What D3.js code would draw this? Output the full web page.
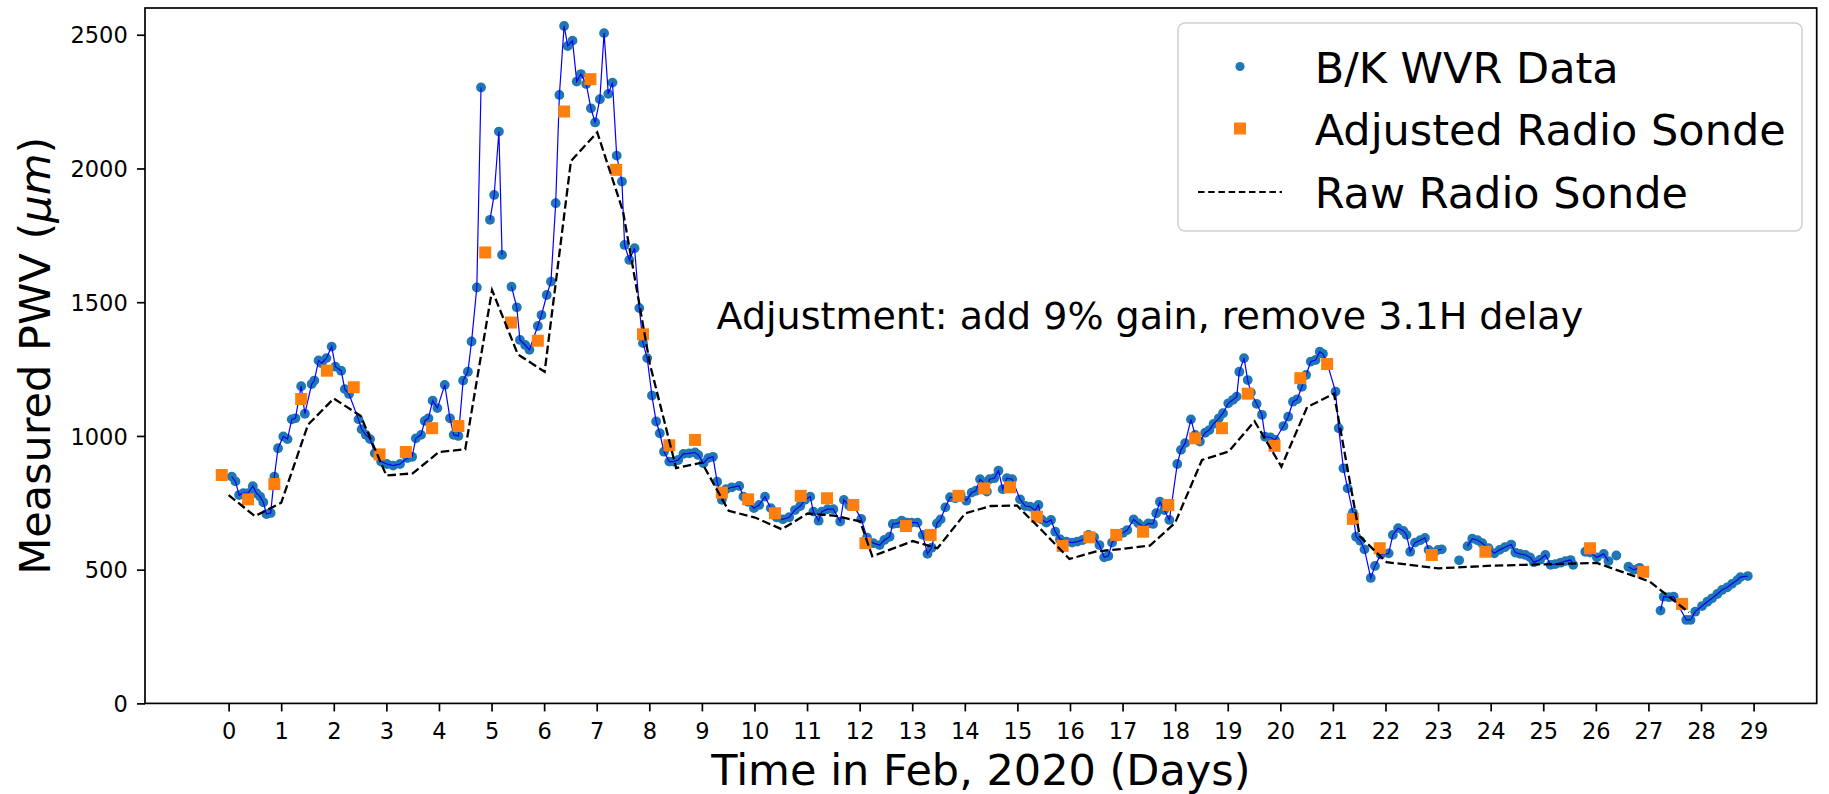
<!DOCTYPE html>
<html>
<head>
<meta charset="utf-8">
<script src="https://cdn.jsdelivr.net/npm/d3@7"></script>
<style>
  body { margin: 0; background: #fff; }
  svg { display: block; }
  text { font-family: "DejaVu Sans", sans-serif; fill: #000; }
</style>
</head>
<body>
<script>
// B/K water vapour radiometer PWV samples (day of Feb 2020, microns)
const wvrDay = [
  0.06,0.13,0.20,0.28,0.37,0.46,0.53,0.60,0.66,0.72,0.80,0.87,0.94,1.04,1.12,1.20,1.27,1.38,1.45,1.58,
  1.63,1.71,1.77,1.86,1.96,2.03,2.14,2.21,2.29,2.47,2.53,2.61,2.69,2.78,2.90,3.01,3.13,3.26,3.40,3.49,
  3.56,3.66,3.73,3.80,3.88,3.97,4.11,4.21,4.28,4.37,4.46,4.55,4.62,4.72,4.80,
  4.97,5.05,5.14,5.20,
  5.38,5.48,5.54,5.64,5.72,5.88,5.95,6.05,6.13,6.22,6.29,6.38,6.45,6.54,6.62,6.70,6.80,6.89,6.97,7.06,
  7.14,7.22,7.30,7.38,7.48,7.53,7.62,7.72,7.81,7.88,7.96,8.05,8.13,8.20,8.28,8.38,8.46,8.55,8.65,8.76,
  8.87,8.93,9.03,9.12,9.21,9.29,9.38,9.46,9.57,9.71,9.79,9.88,9.99,10.09,10.20,10.31,10.42,10.54,10.66,10.77,
  10.87,10.96,11.06,11.12,11.22,11.28,11.39,11.50,11.63,11.70,11.80,11.88,12.03,12.14,12.26,12.38,12.47,12.57,12.63,12.72,
  12.80,12.90,12.99,13.10,13.20,13.29,13.37,13.47,13.54,13.63,13.72,13.82,13.92,14.03,14.13,14.21,14.29,14.37,14.42,14.47,
  14.56,14.64,14.72,14.80,14.90,15.05,15.15,15.24,15.34,15.40,15.46,15.55,15.64,15.72,15.81,15.93,16.04,16.14,16.24,16.35,
  16.46,16.56,16.65,16.73,16.80,16.90,17.01,17.09,17.21,17.30,17.40,17.49,17.58,17.64,17.71,17.79,17.89,18.04,18.11,18.19,
  18.30,18.38,18.47,18.57,18.65,18.73,18.83,18.91,19.01,19.10,19.17,19.22,19.31,19.38,19.44,19.55,19.65,19.71,19.81,19.90,
  20.06,20.15,20.24,20.32,20.41,20.49,20.58,20.67,20.75,20.81,20.90,21.05,21.11,21.20,21.28,21.38,21.44,21.52,21.60,21.72,
  21.80,21.91,22.06,22.14,22.24,22.34,22.40,22.47,22.56,22.66,22.75,22.82,22.92,23.00,23.07,
  23.40,
  23.56,23.65,23.75,23.84,23.96,24.07,24.17,24.27,24.39,24.47,24.56,24.66,24.75,24.82,24.94,25.04,25.14,25.23,25.33,25.42,
  25.52,25.57,
  25.80,25.89,26.02,26.15,26.24,
  26.39,
  26.62,26.72,26.83,26.92,
  27.23,27.29,27.39,27.48,27.72,27.80,27.89,28.02,28.12,28.21,28.31,28.40,28.50,28.59,28.69,28.75,28.89
];
const wvrPwv = [
  848,830,779,786,786,812,786,773,752,708,712,848,954,998,988,1062,1066,1186,1083,1194,
  1207,1282,1272,1291,1334,1259,1244,1175,1157,1062,1025,1004,988,935,904,895,889,895,917,922,
  991,1004,1056,1066,1132,1104,1191,1066,1004,1000,1207,1240,1353,1555,2303,
  1808,1901,2138,1677,
  1558,1481,1359,1340,1322,1411,1452,1527,1577,1870,2275,2533,2458,2478,2325,2353,2316,2225,2172,2259,
  2506,2279,2321,2048,1951,1714,1658,1702,1478,1347,1291,1151,1054,1010,941,904,904,910,933,935,
  938,929,898,917,922,829,761,801,808,813,773,754,730,742,773,730,696,688,696,723,
  738,761,773,717,683,717,726,726,680,761,740,742,690,620,599,592,611,623,671,673,
  683,676,676,676,630,559,582,673,688,733,771,767,779,758,788,795,838,823,792,838,
  842,870,801,842,838,763,738,736,721,742,688,676,686,642,614,605,601,605,611,630,
  621,592,546,551,601,626,638,648,688,673,661,673,671,711,754,723,686,895,948,973,
  1062,1004,979,1012,1022,1045,1066,1085,1122,1135,1147,1240,1291,1209,1162,1120,1079,997,995,985,
  1037,1072,1128,1137,1184,1228,1278,1284,1315,1307,1266,1166,1029,879,804,713,623,608,576,469,
  514,557,561,630,655,645,630,567,601,610,619,574,564,574,576,
  535,
  588,616,610,599,580,561,574,584,594,564,559,555,546,528,537,555,518,521,526,532,
  536,518,
  567,564,546,559,532,
  553,
  511,499,507,493,
  347,399,397,399,312,312,343,364,380,393,409,424,434,447,461,472,476
];
// the connecting line is interrupted after these samples (missing data)
const wvrBreakAfter = [4.80, 5.20, 23.07, 23.40, 25.57, 26.24, 26.39, 26.92];

// radiosonde PWV after +9% gain and -3.1 h shift
const sondeAdjDay = [
  -0.13,0.37,0.87,1.38,1.87,2.38,2.87,3.37,3.87,4.37,4.88,5.37,5.88,6.38,6.88,7.37,7.88,8.38,8.87,9.38,
  9.88,10.39,10.88,11.38,11.88,12.11,12.88,13.35,13.88,14.37,14.86,15.37,15.86,16.37,16.88,17.39,17.87,18.38,18.89,19.38,
  19.89,20.38,20.89,21.38,21.89,22.88,23.90,25.89,26.90,27.64
];
const sondeAdjPwv = [
  854,763,820,1138,1244,1182,931,940,1029,1037,1686,1424,1356,2213,2334,1995,1380,965,985,788,
  763,711,776,767,742,599,663,630,776,804,808,698,589,621,630,642,742,991,1029,1158,
  963,1216,1269,690,580,555,567,580,492,372
];

// raw radiosonde PWV
const sondeRawDay = [
  0.00,0.50,1.00,1.51,2.00,2.51,3.00,3.50,4.00,4.50,5.01,5.50,6.01,6.51,7.01,7.50,8.01,8.51,9.00,9.51,
  10.01,10.52,11.01,11.51,12.01,12.24,13.01,13.48,14.01,14.50,14.99,15.50,15.99,16.50,17.01,17.52,18.00,18.51,19.02,19.51,
  20.02,20.51,21.02,21.51,22.02,23.01,24.03,26.02,27.03,27.77
];
const sondeRawPwv = [
  779,700,750,1042,1140,1075,852,860,940,950,1545,1305,1240,2028,2135,1840,1270,880,900,720,
  695,651,710,702,681,550,607,580,711,738,740,640,540,568,578,590,675,910,942,1055,
  885,1108,1158,625,528,505,515,525,455,340
];

const dayTicks = [0,1,2,3,4,5,6,7,8,9,10,11,12,13,14,15,16,17,18,19,20,21,22,23,24,25,26,27,28,29];
const pwvTicks = [0,500,1000,1500,2000,2500];
const seriesNames = ["B/K WVR Data", "Adjusted Radio Sonde", "Raw Radio Sonde"];
const xTitle = "Time in Feb, 2020 (Days)";
const noteText = "Adjustment: add 9% gain, remove 3.1H delay";
const noteDay = 9.28, notePwv = 1400;

const W = 1829, H = 794;
const plot = { left: 145, right: 1816.7, top: 8, bottom: 703.4 };
const dotColor = "#1f77b4", lineColor = "#0000ff", sondeColor = "#ff7f0e";
const dotR = 4.9;

const svg = d3.select("body").append("svg").attr("width", W).attr("height", H);
svg.append("rect").attr("width", W).attr("height", H).attr("fill", "#fff");

const x = d3.scaleLinear().domain([-1.59, 30.2]).range([plot.left, plot.right]);
const y = d3.scaleLinear().domain([0, 2600]).range([plot.bottom, plot.top]);

// axes
const xAxis = svg.append("g").attr("transform", `translate(0,${plot.bottom})`)
  .call(d3.axisBottom(x).tickValues(dayTicks).tickFormat(d3.format("d")).tickSize(8).tickPadding(11.6));
const yAxis = svg.append("g").attr("transform", `translate(${plot.left},0)`)
  .call(d3.axisLeft(y).tickValues(pwvTicks).tickFormat(d3.format("d")).tickSize(8).tickPadding(9.3));
[xAxis, yAxis].forEach(g => {
  g.select(".domain").remove();
  g.selectAll(".tick line").attr("stroke", "#000").attr("stroke-width", 1.7);
  g.selectAll(".tick text").attr("font-size", 22.5).attr("font-family", "DejaVu Sans").attr("fill", "#000");
});
yAxis.selectAll(".tick text").attr("dy", "0.36em");

// clip for data marks
svg.append("clipPath").attr("id", "plotArea").append("rect")
  .attr("x", plot.left).attr("y", plot.top)
  .attr("width", plot.right - plot.left).attr("height", plot.bottom - plot.top);
const marks = svg.append("g").attr("clip-path", "url(#plotArea)");

// WVR samples
const wvr = wvrDay.map((d, i) => ({ day: d, pwv: wvrPwv[i] }));
marks.append("g").selectAll("circle").data(wvr).join("circle")
  .attr("cx", d => x(d.day)).attr("cy", d => y(d.pwv)).attr("r", dotR)
  .attr("fill", dotColor);

const segments = [];
let current = [];
wvr.forEach(p => {
  current.push(p);
  if (wvrBreakAfter.includes(p.day)) { segments.push(current); current = []; }
});
if (current.length) segments.push(current);
const line = d3.line().x(d => x(d.day)).y(d => y(d.pwv));
marks.append("g").selectAll("path").data(segments.filter(s => s.length > 1)).join("path")
  .attr("d", line).attr("fill", "none").attr("stroke", lineColor).attr("stroke-width", 1.2);

// adjusted radiosonde squares
const sq = 12;
marks.append("g").selectAll("rect").data(sondeAdjDay.map((d, i) => ({ day: d, pwv: sondeAdjPwv[i] })))
  .join("rect")
  .attr("x", d => x(d.day) - sq / 2).attr("y", d => y(d.pwv) - sq / 2)
  .attr("width", sq).attr("height", sq).attr("fill", sondeColor);

// raw radiosonde dashed line
marks.append("path")
  .datum(sondeRawDay.map((d, i) => ({ day: d, pwv: sondeRawPwv[i] })))
  .attr("d", line).attr("fill", "none").attr("stroke", "#000")
  .attr("stroke-width", 2.3).attr("stroke-dasharray", "8.5,3.7");

// frame
svg.append("rect").attr("x", plot.left).attr("y", plot.top)
  .attr("width", plot.right - plot.left).attr("height", plot.bottom - plot.top)
  .attr("fill", "none").attr("stroke", "#000").attr("stroke-width", 1.7);

// annotation
svg.append("text").attr("x", x(noteDay)).attr("y", y(notePwv))
  .attr("font-size", 38).text(noteText);

// axis titles
svg.append("text").attr("x", (plot.left + plot.right) / 2).attr("y", 785)
  .attr("text-anchor", "middle").attr("font-size", 43).text(xTitle);
const yt = svg.append("text")
  .attr("transform", `translate(50,${(plot.top + plot.bottom) / 2}) rotate(-90)`)
  .attr("text-anchor", "middle").attr("font-size", 43);
yt.append("tspan").text("Measured PWV (");
yt.append("tspan").attr("font-style", "italic").text("\u03bcm");
yt.append("tspan").text(")");

// legend
const lg = svg.append("g");
lg.append("rect").attr("x", 1178).attr("y", 23).attr("width", 624).attr("height", 208)
  .attr("rx", 7).attr("fill", "#fff").attr("fill-opacity", 0.8)
  .attr("stroke", "#d0d0d0").attr("stroke-width", 1.5);
const rowY = [66.5, 128.5, 192];
const handleX = 1240;
lg.append("circle").attr("cx", handleX).attr("cy", rowY[0]).attr("r", 4.6).attr("fill", dotColor);
lg.append("rect").attr("x", handleX - 6).attr("y", rowY[1] - 6).attr("width", 12).attr("height", 12).attr("fill", sondeColor);
lg.append("line").attr("x1", handleX - 42).attr("x2", handleX + 42).attr("y1", rowY[2]).attr("y2", rowY[2])
  .attr("stroke", "#000").attr("stroke-width", 1.8).attr("stroke-dasharray", "6.5,3.7");
seriesNames.forEach((name, i) => {
  lg.append("text").attr("x", 1314.7).attr("y", rowY[i] + 16).attr("font-size", 43).text(name);
});
</script>
</body>
</html>
